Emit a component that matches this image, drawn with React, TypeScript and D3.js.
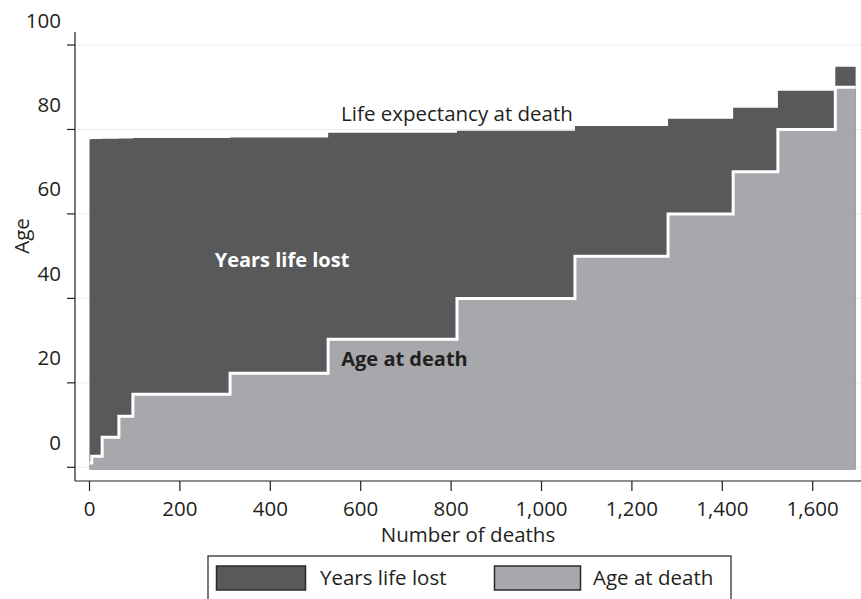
import React from "react";
import * as d3 from "d3";

// Age groups: first death index of each group (cumulative deaths), age at death, life expectancy at death
const groupStart = [0, 5, 28, 65, 96, 311, 528, 813, 1074, 1280, 1424, 1523, 1650];
const ageAtDeath = [1.0, 2.6, 7.1, 12.1, 17.3, 22.3, 30.3, 40, 50, 60, 70, 80, 90];
const lifeExpectancy = [77.67, 77.72, 77.78, 77.85, 77.95, 78.1, 79.23, 79.71, 80.82, 82.55, 85.15, 89.18, 94.86];
const totalDeaths = 1695;

const xTicks = [0, 200, 400, 600, 800, 1000, 1200, 1400, 1600];
const yTicks = [0, 20, 40, 60, 80, 100];

const legendItems = ["Years life lost", "Age at death"];

const DARK = "#58595b";
const LIGHT = "#a7a8ac";
const INK = "#231f20";
const FONT = "'Open Sans', sans-serif";

export default function App() {
  const x = d3.scaleLinear().domain([0, 1600]).range([89.5, 812.7]);
  const y = d3.scaleLinear().domain([0, 100]).range([467.3, 45]);
  const base = -0.5;

  const pts = groupStart.map((s, i) => ({ d: s, age: ageAtDeath[i], le: lifeExpectancy[i] }));
  pts.push({ d: totalDeaths, age: ageAtDeath[ageAtDeath.length - 1], le: lifeExpectancy[lifeExpectancy.length - 1] });

  const darkArea = d3
    .area<any>()
    .x((p) => x(p.d))
    .y0(() => y(base))
    .y1((p) => y(p.le))
    .curve(d3.curveStepAfter)(pts) as string;

  const lightArea = d3
    .area<any>()
    .x((p) => x(p.d))
    .y0(() => y(base))
    .y1((p) => y(p.age))
    .curve(d3.curveStepAfter)(pts) as string;

  const ageLine = d3
    .line<any>()
    .x((p) => x(p.d))
    .y((p) => y(p.age))
    .curve(d3.curveStepAfter)(pts) as string;

  const fmt = d3.format(",");
  const axisX = 75;
  const axisY = 481;

  return (
    <svg
      width={861}
      height={599}
      style={{ position: "absolute", left: 0, top: 0, background: "#fff" }}
      fontFamily={FONT}
    >
      {/* gridlines */}
      {yTicks.map((t) => (
        <line key={"g" + t} x1={axisX + 1} x2={861} y1={y(t)} y2={y(t)} stroke="#ececec" strokeWidth={1} />
      ))}

      <path d={darkArea} fill={DARK} />
      <path d={lightArea} fill={LIGHT} />
      <path d={ageLine} fill="none" stroke="#fff" strokeWidth={3} strokeLinejoin="miter" />

      {/* y axis */}
      <line x1={axisX} x2={axisX} y1={32} y2={axisY} stroke={INK} strokeWidth={1.2} />
      {yTicks.map((t) => (
        <g key={"y" + t}>
          <line x1={67} x2={axisX} y1={y(t)} y2={y(t)} stroke={INK} strokeWidth={1.2} />
          <text x={61} y={y(t) - 17.5} textAnchor="end" fontSize={20.5} fill={INK}>
            {t}
          </text>
        </g>
      ))}
      <text
        transform={`translate(29,236) rotate(-90)`}
        textAnchor="middle"
        fontSize={20.5}
        fill={INK}
      >
        Age
      </text>

      {/* x axis */}
      <line x1={axisX} x2={861} y1={axisY} y2={axisY} stroke={INK} strokeWidth={1.2} />
      {xTicks.map((t) => (
        <g key={"x" + t}>
          <line x1={x(t)} x2={x(t)} y1={axisY} y2={491} stroke={INK} strokeWidth={1.2} />
          <text x={x(t)} y={515.5} textAnchor="middle" fontSize={20.5} fill={INK}>
            {fmt(t)}
          </text>
        </g>
      ))}
      <text x={468} y={542} textAnchor="middle" fontSize={20.5} fill={INK}>
        Number of deaths
      </text>

      {/* annotations */}
      <text x={457} y={121} textAnchor="middle" fontSize={20.5} fill={INK}>
        Life expectancy at death
      </text>
      <text x={282} y={267} textAnchor="middle" fontSize={20} fontWeight="bold" fill="#fff">
        Years life lost
      </text>
      <text x={404.5} y={366} textAnchor="middle" fontSize={20} fontWeight="bold" fill={INK}>
        Age at death
      </text>

      {/* legend */}
      <rect x={208} y={556} width={523} height={70} fill="none" stroke={INK} strokeWidth={1.2} />
      <rect x={216.5} y={566} width={89} height={24} fill={DARK} stroke="#2a2a2a" strokeWidth={1.5} />
      <text x={320} y={585} fontSize={20.5} fill={INK}>
        {legendItems[0]}
      </text>
      <rect x={494.5} y={566} width={86} height={24} fill={LIGHT} stroke="#2a2a2a" strokeWidth={1.5} />
      <text x={593} y={585} fontSize={20.5} fill={INK}>
        {legendItems[1]}
      </text>
    </svg>
  );
}
